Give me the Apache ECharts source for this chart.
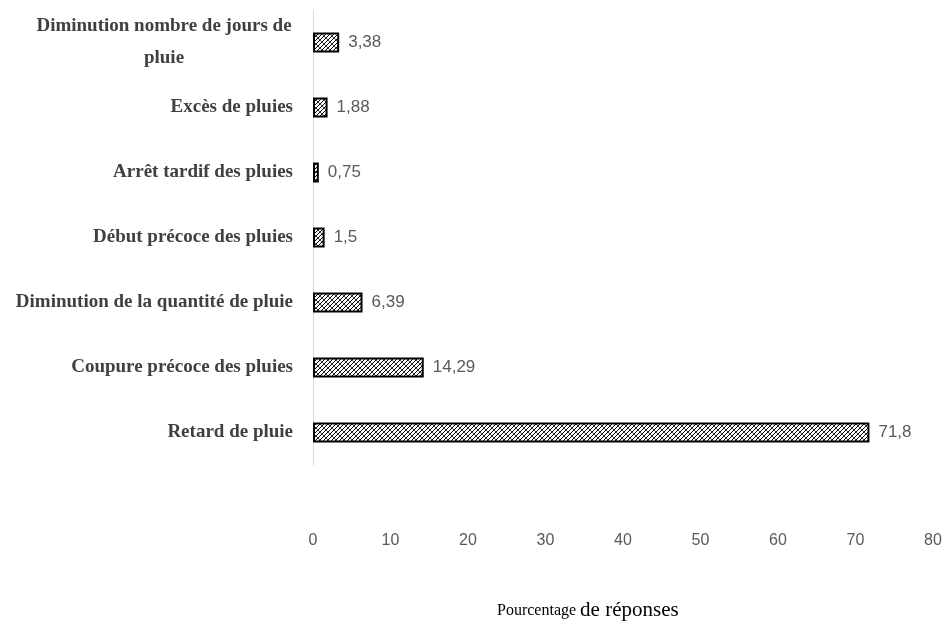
<!DOCTYPE html>
<html><head><meta charset="utf-8">
<script src="https://cdn.jsdelivr.net/npm/echarts@6/dist/echarts.min.js"></script>
<style>html,body{margin:0;padding:0;background:#fff}#c{width:948px;height:630px}</style>
</head><body><div id="c"></div>
<script>
const categories = [
  "Diminution nombre de jours de pluie",
  "Excès de pluies",
  "Arrêt tardif des pluies",
  "Début précoce des pluies",
  "Diminution de la quantité de pluie",
  "Coupure précoce des pluies",
  "Retard de pluie"
];
const values = [3.38, 1.88, 0.75, 1.5, 6.39, 14.29, 71.8];
const xTicks = { min: 0, max: 80, interval: 10 };
const axisTitle = ["Pourcentage", "de réponses"];

function hatch() {
  const c = document.createElement('canvas');
  c.width = 8; c.height = 8;
  const g = c.getContext('2d');
  g.fillStyle = '#fff'; g.fillRect(0, 0, 8, 8);
  g.strokeStyle = '#000'; g.lineWidth = 1;
  g.beginPath();
  for (let k = -8; k <= 16; k += 4) { g.moveTo(k, 8); g.lineTo(k + 8, 0); }
  g.stroke();
  g.lineWidth = 0.7;
  g.beginPath();
  for (let k = -8; k <= 16; k += 8) { g.moveTo(k, 0); g.lineTo(k + 8, 8); }
  g.stroke();
  return c;
}

const chart = echarts.init(document.getElementById('c'));
const catFont = { fontFamily: 'Liberation Serif', fontWeight: 'bold', fontSize: 19, color: '#404040' };
chart.setOption({
  animation: false,
  grid: { left: 313, right: 15, top: 10, bottom: 165 },
  title: {
    text: '{a|' + axisTitle[0] + ' }{b|' + axisTitle[1] + '}',
    left: 492, top: 595,
    textStyle: { rich: {
      a: { fontFamily: 'Liberation Serif', fontWeight: 'normal', fontSize: 16, color: '#000' },
      b: { fontFamily: 'Liberation Serif', fontWeight: 'normal', fontSize: 21, color: '#000' }
    } }
  },
  xAxis: {
    type: 'value', min: xTicks.min, max: xTicks.max, interval: xTicks.interval,
    axisLine: { show: false }, axisTick: { show: false }, splitLine: { show: false },
    axisLabel: { margin: 68, fontFamily: 'Liberation Sans', fontSize: 16, color: '#595959' }
  },
  yAxis: {
    type: 'category', data: categories, inverse: true,
    axisLine: { show: true, lineStyle: { color: '#d9d9d9', width: 1 } },
    axisTick: { show: false },
    axisLabel: Object.assign({
      margin: 20,
      formatter: function (v) {
        if (v === categories[0]) return '{c|Diminution nombre de jours de}\n{c|pluie}';
        return v;
      },
      rich: { c: Object.assign({ width: 258, align: 'center', lineHeight: 32 }, catFont) }
    }, catFont)
  },
  series: [{
    type: 'bar', data: values, barWidth: 20,
    itemStyle: { color: { image: hatch(), repeat: 'repeat' }, borderColor: '#000', borderWidth: 2 },
    label: {
      show: true, position: 'right', distance: 9,
      fontFamily: 'Liberation Sans', fontSize: 17, color: '#595959',
      formatter: p => String(p.value).replace('.', ',')
    }
  }]
});
</script></body></html>
